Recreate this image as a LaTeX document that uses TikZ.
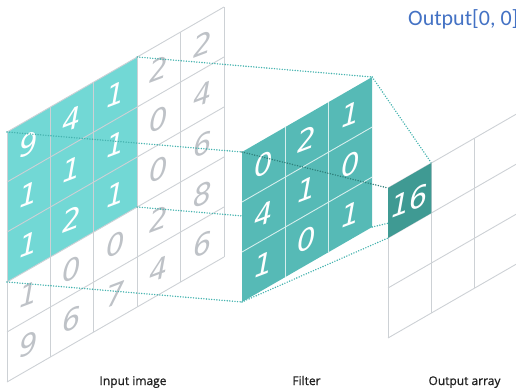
\documentclass[tikz,border=0pt]{standalone}
\usepackage{fontspec}
\newfontfamily\digitfont{DejaVu Sans}
\newfontfamily\labelfont{Open Sans}[FakeBold=0.9]
\newfontfamily\titlefont{Carlito}
\definecolor{inteal}{HTML}{72D8D5}
\definecolor{filteal}{HTML}{56BAB6}
\definecolor{outteal}{HTML}{3F9A93}
\definecolor{gridgray}{HTML}{CDD1D5}
\definecolor{digitgray}{HTML}{BEC2C7}
\definecolor{dotteal}{HTML}{45B3AF}
\definecolor{dotdark}{HTML}{2E7E79}
\definecolor{titleblue}{HTML}{4472C4}
\definecolor{labelgray}{HTML}{222222}
\begin{document}
\begin{tikzpicture}[x=1pt,y=-1pt,
  gridline/.style={draw=gridgray,line width=0.9pt},
  filline/.style={draw=white!75!filteal,line width=0.9pt},
  digit/.style={font=\digitfont\itshape\fontsize{29}{29}\selectfont,
    yslant=0.38,inner sep=0pt},
  digiton/.style={digit,text=white},
  digitoff/.style={digit,text=digitgray},
  link/.style={dotteal,line width=1.6pt,line cap=round,
    dash pattern=on 0pt off 2.6pt},
  linkdark/.style={link,draw=dotdark},
  caption/.style={font=\labelfont\fontsize{12}{12}\selectfont,
    text=labelgray,anchor=base,inner sep=0pt}]
\useasboundingbox (0,0) rectangle (516,388);

% ---------- input image (5x5) ----------
\begin{scope}[shift={(7pt,-132pt)},x={(43.4pt,25pt)},y={(0pt,-50pt)}]
  \fill[inteal] (0,0) -- (3,0) -- (3,3) -- (0,3) -- cycle;
  \foreach \i in {0,...,5} {
    \draw[gridline] (\i,0) -- (\i,5);
    \draw[gridline] (0,\i) -- (5,\i);
  }
  \foreach \row [count=\r from 0] in
      {{9,4,1,2,2},{1,1,1,0,4},{1,2,1,0,6},{1,0,0,2,8},{9,6,7,4,6}} {
    \foreach \d [count=\c from 0] in \row {
      \pgfmathtruncatemacro{\hot}{(\c<3 && \r<3) ? 1 : 0}
      \ifnum\hot=1
        \node[digiton] (in\r\c) at (\c+0.5,\r+0.5) {\d};
      \else
        \node[digitoff] (in\r\c) at (\c+0.5,\r+0.5) {\d};
      \fi
    }
  }
  \coordinate (inTL) at (0,0);
  \coordinate (inTR) at (3,0);
  \coordinate (inBL) at (0,3);
  \coordinate (inBR) at (3,3);
\end{scope}

% ---------- filter corners ----------
\begin{scope}[shift={(242pt,-152pt)},x={(43.4pt,25pt)},y={(0pt,-50pt)}]
  \coordinate (fTL) at (0,0);
  \coordinate (fTR) at (3,0);
  \coordinate (fBL) at (0,3);
  \coordinate (fBR) at (3,3);
\end{scope}

% projection lines from the receptive field to the filter
\draw[link] (inTL) -- (fTL);
\draw[link] (inTR) -- (fTR);
\draw[link] (inBL) -- (fBL);
\draw[link] (inBR) -- (fBR);

% ---------- filter (3x3) ----------
\begin{scope}[shift={(242pt,-152pt)},x={(43.4pt,25pt)},y={(0pt,-50pt)}]
  \fill[filteal] (fTL) -- (fTR) -- (fBR) -- (fBL) -- cycle;
  \foreach \i in {1,2} {
    \draw[filline] (\i,0) -- (\i,3);
    \draw[filline] (0,\i) -- (3,\i);
  }
  \foreach \row [count=\r from 0] in {{0,2,1},{4,1,0},{1,0,1}} {
    \foreach \d [count=\c from 0] in \row {
      \node[digiton] (f\r\c) at (\c+0.5,\r+0.5) {\d};
    }
  }
\end{scope}

% ---------- output corners ----------
\begin{scope}[shift={(388pt,-188pt)},x={(43.4pt,25pt)},y={(0pt,-50pt)}]
  \coordinate (oTL) at (0,0);
  \coordinate (oTR) at (1,0);
  \coordinate (oBL) at (0,1);
  \coordinate (oBR) at (1,1);
\end{scope}

% projection lines from the filter to the output cell
\draw[linkdark] (fTL) -- (oTL);
\draw[link] (fTR) -- (oTR);
\draw[link] (fBL) -- (oBL);
\draw[link] (fBR) -- (oBR);

% ---------- output array (3x3) ----------
\begin{scope}[shift={(388pt,-188pt)},x={(43.4pt,25pt)},y={(0pt,-50pt)}]
  \foreach \i in {0,...,3} {
    \draw[gridline] (\i,0) -- (\i,3);
    \draw[gridline] (0,\i) -- (3,\i);
  }
  \fill[outteal] (oTL) -- (oTR) -- (oBR) -- (oBL) -- cycle;
  \node[digiton] (out00) at (0.5,0.5) {16};
\end{scope}

% ---------- captions ----------
\node[font=\titlefont\fontsize{22}{22}\selectfont,text=titleblue,
  anchor=base west,inner sep=0pt] (title) at (408,25) {Output[0, 0]};
\node[caption] (capin) at (133,385) {Input image};
\node[caption] (capf) at (306.5,385) {Filter};
\node[caption] (capout) at (464.5,385) {Output array};
\end{tikzpicture}
\end{document}
